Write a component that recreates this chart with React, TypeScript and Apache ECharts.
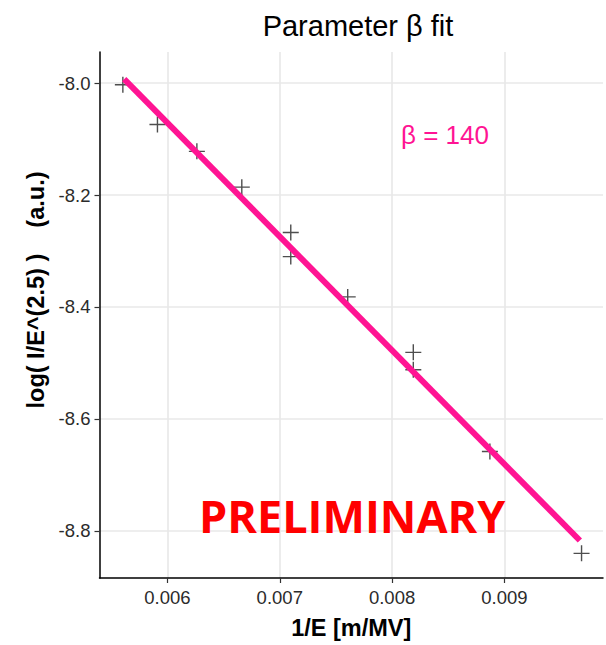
import React, { useEffect, useRef } from "react";
import * as echarts from "echarts";

// Measured points: 1/E [m/MV] and log(I/E^2.5)
const invE = [0.005603, 0.005911, 0.006262, 0.006662, 0.007098, 0.007098, 0.007605, 0.008189, 0.008189, 0.008871, 0.009687];
const logIE = [-8.003, -8.074, -8.122, -8.186, -8.267, -8.310, -8.382, -8.481, -8.512, -8.658, -8.840];

// Fit line end points
const fitX = [0.005615, 0.009672];
const fitY = [-7.993, -8.817];

const xTicks = [0.006, 0.007, 0.008, 0.009];
const yTicks = [-8.8, -8.6, -8.4, -8.2, -8.0];

const titleText = "Parameter \u03b2 fit";
const betaText = "\u03b2 = 140";
const stampText = "PRELIMINARY";

const PLUS = "path://M0,7.3L16,7.3L16,8.7L0,8.7Z M7.3,0L8.7,0L8.7,16L7.3,16Z";

export default function App() {
  const ref = useRef<HTMLDivElement>(null);
  useEffect(() => {
    if (!ref.current) return;
    const chart = echarts.init(ref.current, null, { renderer: "svg" });
    const pts = invE.map((x, i) => [x, logIE[i]]);
    const fit = fitX.map((x, i) => [x, fitY[i]]);
    chart.setOption({
      animation: false,
      backgroundColor: "#ffffff",
      textStyle: { fontFamily: "Liberation Sans, Arial, sans-serif" },
      title: {
        text: titleText,
        left: 353,
        textAlign: "center",
        top: 6,
        textStyle: { fontSize: 29, fontWeight: "normal", color: "#000", fontFamily: "Liberation Sans, Arial, sans-serif" },
      },
      grid: { left: 99.5, right: 3, top: 52, bottom: 62.5, containLabel: false },
      xAxis: {
        type: "value",
        min: 0.005395,
        max: 0.009878,
        name: "1/E [m/MV]",
        nameLocation: "middle",
        nameGap: 38,
        nameTextStyle: { fontSize: 23.5, fontWeight: "bold", color: "#000" },
        axisLine: { show: true, onZero: false, lineStyle: { color: "#000", width: 1.5 } },
        axisTick: { show: true, length: 5, customValues: xTicks, lineStyle: { color: "#333", width: 1.2 } },
        axisLabel: {
          customValues: xTicks,
          formatter: (v: number) => v.toFixed(3),
          fontSize: 18.5,
          color: "#2b2b2b",
          margin: 10,
        },
        splitLine: { show: true, lineStyle: { color: "#e8e8e8", width: 1.6 } },
      },
      yAxis: {
        type: "value",
        min: -8.884,
        max: -7.9446,
        name: "log( I/E^(2.5) )    (a.u.)",
        nameLocation: "middle",
        nameGap: 50,
        nameTextStyle: { fontSize: 23.5, fontWeight: "bold", color: "#000", padding: [0, 0, 0, 50] },
        axisLine: { show: true, onZero: false, lineStyle: { color: "#000", width: 1.5 } },
        axisTick: { show: true, length: 5, customValues: yTicks, lineStyle: { color: "#333", width: 1.2 } },
        axisLabel: {
          customValues: yTicks,
          formatter: (v: number) => v.toFixed(1),
          fontSize: 18.5,
          color: "#2b2b2b",
          margin: 9,
        },
        splitLine: { show: true, lineStyle: { color: "#e8e8e8", width: 1.6 } },
      },
      series: [
        {
          type: "scatter",
          data: pts,
          symbol: PLUS,
          symbolSize: 16,
          itemStyle: { color: "#222222" },
          z: 2,
        },
        {
          type: "line",
          data: fit,
          symbol: "none",
          lineStyle: { color: "#ff1493", width: 6, cap: "butt" },
          z: 3,
        },
      ],
      graphic: [
        {
          type: "text",
          left: 401,
          top: 122,
          style: { text: betaText, fontSize: 26, fill: "#ff1493", fontFamily: "Liberation Sans, Arial, sans-serif" },
          z: 10,
        },
        {
          type: "text",
          left: 199,
          top: 493,
          style: { text: stampText, fontSize: 45, fontWeight: "bold", fill: "#ff0000", fontFamily: "Open Sans, sans-serif" },
          z: 10,
        },
      ],
    });
    return () => chart.dispose();
  }, []);
  return (
    <div style={{ position: "fixed", left: 0, top: 0, width: 606, height: 645, background: "#fff" }}>
      <div ref={ref} style={{ width: 606, height: 645 }} />
    </div>
  );
}
